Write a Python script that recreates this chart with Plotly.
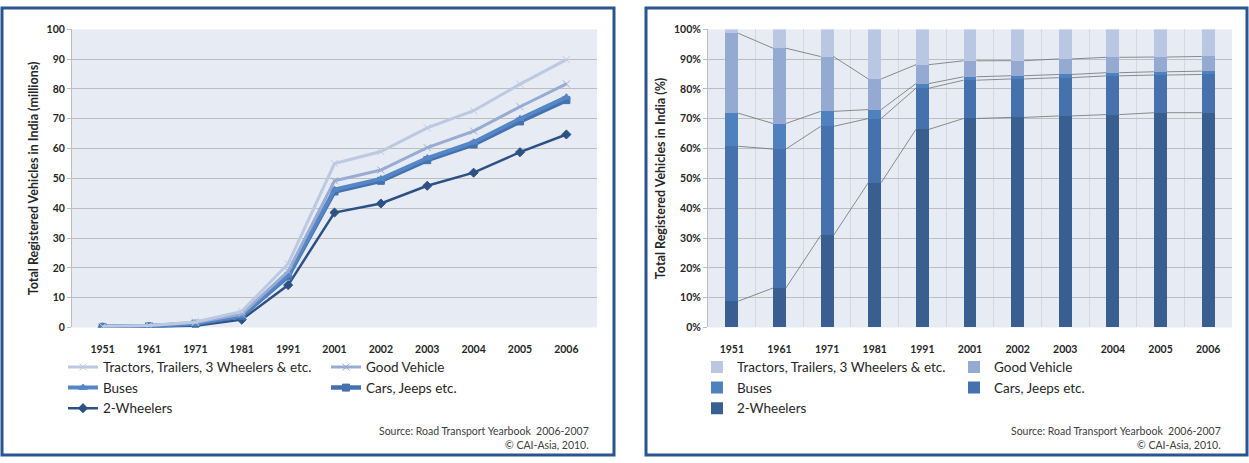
import plotly.graph_objects as go
import numpy as np

# ---------------- data (millions of registered vehicles) ----------------
years = ['1951', '1961', '1971', '1981', '1991', '2001', '2002', '2003', '2004', '2005', '2006']
two_wheelers = [0.027, 0.088, 0.576, 2.618, 14.200, 38.556, 41.581, 47.519, 51.922, 58.799, 64.743]
cars_jeeps = [0.159, 0.310, 0.682, 1.160, 2.954, 7.058, 7.613, 8.599, 9.451, 10.320, 11.526]
buses = [0.034, 0.057, 0.094, 0.162, 0.331, 0.634, 0.635, 0.721, 0.768, 0.892, 0.992]
good_vehicle = [0.082, 0.168, 0.343, 0.554, 1.356, 2.948, 2.974, 3.492, 3.749, 4.031, 4.436]
tractors_etc = [0.004, 0.042, 0.170, 0.897, 2.533, 5.795, 6.203, 6.636, 6.818, 7.575, 8.158]

names = ['2-Wheelers', 'Cars, Jeeps etc.', 'Buses', 'Good Vehicle', 'Tractors, Trailers, 3 Wheelers & etc.']
series = [two_wheelers, cars_jeeps, buses, good_vehicle, tractors_etc]

line_colors = ['#2C5184', '#4472B0', '#5586C5', '#98ABD3', '#BCC9E1']
bar_colors = ['#395F91', '#4572AC', '#4F81BF', '#95AAD2', '#B9C7E2']
line_widths = [2.5, 4.5, 4, 3, 3]
symbols = ['diamond', 'square', 'triangle-up', 'x-thin-open', 'x-thin-open']
legend_left = ['legend', 'legend2', 'legend', 'legend2', 'legend']
legend_right = ['legend3', 'legend4', 'legend3', 'legend4', 'legend3']

W, H = 1249, 463
FONT = 'Lato'

def px(x):
    return x / W

def py(y):
    return 1 - y / H

fig = go.Figure()

# ---------------- left: stacked line chart ----------------
cum = np.cumsum(np.array(series), axis=0)
for k in range(len(series)):
    fig.add_trace(go.Scatter(
        x=years, y=cum[k], name=names[k], mode='lines+markers',
        line=dict(color=line_colors[k], width=line_widths[k]),
        marker=dict(symbol=symbols[k], size=7, color=line_colors[k],
                    line=dict(color=line_colors[k], width=1)),
        xaxis='x', yaxis='y', legend=legend_left[k]))

# ---------------- right: 100% stacked columns ----------------
idx = np.arange(len(years))
bar_w = 0.27
for k in range(len(series)):
    fig.add_trace(go.Bar(
        x=idx, y=series[k], name=names[k], width=bar_w,
        marker=dict(color=bar_colors[k], line=dict(width=0)),
        xaxis='x2', yaxis='y2', legend=legend_right[k]))

share = cum / cum[-1] * 100
for k in range(len(series) - 1):
    xs, ys = [], []
    for i in range(len(years) - 1):
        xs += [idx[i] + bar_w / 2, idx[i + 1] - bar_w / 2, None]
        ys += [share[k][i], share[k][i + 1], None]
    fig.add_trace(go.Scatter(x=xs, y=ys, mode='lines', showlegend=False,
                             line=dict(color='#707070', width=0.8),
                             xaxis='x2', yaxis='y2', hoverinfo='skip'))

tickfont = dict(family=FONT, size=10.5, color='#262626', weight='bold')
titlefont = dict(family=FONT, size=12.5, color='#262626', weight='bold')
ydom = [py(330), py(24)]

fig.update_layout(
    width=W, height=H, margin=dict(l=0, r=0, t=0, b=0),
    paper_bgcolor='white', plot_bgcolor='#E7ECF4',
    barmode='stack', barnorm='percent',
    font=dict(family=FONT, color='#262626'),
    xaxis=dict(domain=[px(72), px(597)], anchor='y', type='category', showgrid=False,
               tickfont=tickfont, ticks='', ticklabelstandoff=14,
               showline=False, zeroline=False),
    yaxis=dict(domain=ydom, anchor='x', range=[0, 100], dtick=10, showgrid=True,
               gridcolor='#BDBDBD', gridwidth=1, tickfont=tickfont,
               ticks='outside', ticklen=4, tickcolor='#BDBDBD',
               showline=True, linecolor='#BDBDBD', zeroline=False,
               title=dict(text='Total Registered Vehicles in India (millions)',
                          font=titlefont, standoff=5)),
    xaxis2=dict(domain=[px(708), px(1232)], anchor='y2', range=[-0.5, 10.5],
                tickvals=idx.tolist(), ticktext=years, showgrid=False,
                tickfont=tickfont, ticks='', ticklabelstandoff=14,
                minor=dict(tick0=0.5, dtick=1, showgrid=True, gridcolor='#D3D9E3', ticks=''),
                showline=False, zeroline=False),
    yaxis2=dict(domain=ydom, anchor='x2', range=[0, 100], dtick=10, ticksuffix='%',
                showgrid=True, gridcolor='#BDBDBD', tickfont=tickfont,
                ticks='outside', ticklen=4, tickcolor='#BDBDBD',
                showline=True, linecolor='#BDBDBD', zeroline=False,
                title=dict(text='Total Registered Vehicles in India (%)',
                           font=titlefont, standoff=5)),
)

legfont = dict(family=FONT, size=13.5, color='#262626')
for name, xpos in [('legend', 63), ('legend2', 326), ('legend3', 697), ('legend4', 954)]:
    fig.update_layout({name: dict(x=px(xpos), y=py(355), xanchor='left', yanchor='top',
                                  orientation='v', traceorder='reversed',
                                  bgcolor='rgba(0,0,0,0)', font=legfont,
                                  itemclick=False, itemdoubleclick=False)})

# source notes
for xr in [591, 1223]:
    fig.add_annotation(x=px(xr), y=py(436), xref='paper', yref='paper', xanchor='right',
                       yanchor='middle', showarrow=False,
                       text='Source: Road Transport Yearbook  2006-2007',
                       font=dict(family=FONT, size=10.5, color='#404040'))
    fig.add_annotation(x=px(xr), y=py(451), xref='paper', yref='paper', xanchor='right',
                       yanchor='middle', showarrow=False, text='© CAI-Asia, 2010.',
                       font=dict(family=FONT, size=10.5, color='#404040'))

# panel frames
for x0, x1 in [(2, 614), (646, 1247)]:
    fig.add_shape(type='rect', xref='paper', yref='paper',
                  x0=px(x0), x1=px(x1), y0=py(461), y1=py(2),
                  line=dict(color='#2B5592', width=3), fillcolor='rgba(0,0,0,0)',
                  layer='below')

fig.write_html('out.html', config={'displayModeBar': False},
               post_script="document.body.style.margin='0';document.body.style.overflow='hidden';")
